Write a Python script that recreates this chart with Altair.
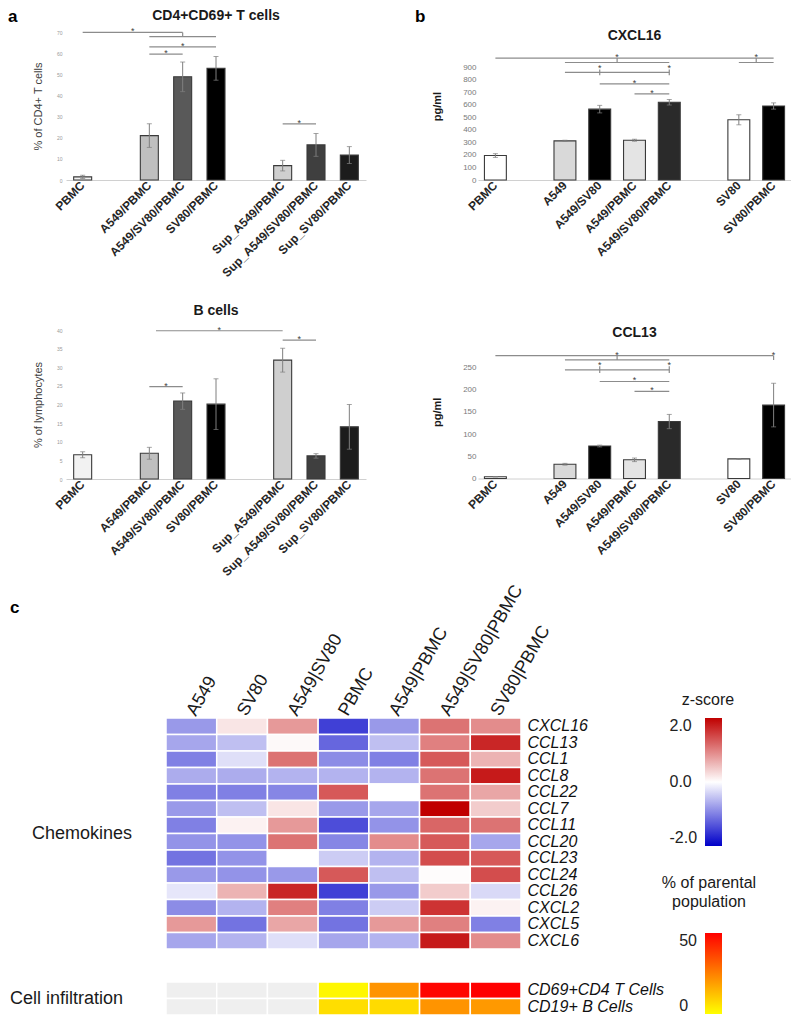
import altair as alt
import pandas as pd

FONT = "Liberation Sans"

# ---------------- panel a ----------------
a_slots = ["PBMC", " ", "A549/PBMC", "A549/SV80/PBMC", "SV80/PBMC", "  ",
           "Sup_A549/PBMC", "Sup_A549/SV80/PBMC", "Sup_SV80/PBMC"]
a_groups = ["PBMC", "A549/PBMC", "A549/SV80/PBMC", "SV80/PBMC",
            "Sup_A549/PBMC", "Sup_A549/SV80/PBMC", "Sup_SV80/PBMC"]
a_fills = ["#f2f2f2", "#bfbfbf", "#595959", "#000000", "#cfcfcf", "#3f3f3f", "#1c1c1c"]

t_mean = [1.5, 21.0, 48.8, 52.8, 6.8, 16.6, 11.8]
t_err = [0.8, 5.6, 7.0, 5.6, 2.5, 5.4, 4.0]
t_br_x1 = [0, 2, 2, 2, 6]
t_br_x2 = [3, 4, 4, 3, 7]
t_br_y = [69.8, 67.8, 63.0, 59.5, 26.5]
t_tk_x = [3]
t_tk_y1 = [67.8]
t_tk_y2 = [69.8]
t_st_x = [1.5, 3, 2.5, 6.5]
t_st_y = [69.8, 63.0, 59.5, 26.5]

b_mean = [6.5, 6.9, 20.9, 20.1, 31.9, 6.2, 14.0]
b_err = [0.8, 1.6, 2.2, 6.8, 3.2, 0.6, 6.0]
b_br_x1 = [2.2, 6, 2]
b_br_x2 = [6, 7, 3]
b_br_y = [39.8, 37.3, 24.8]
b_tk_x = []
b_tk_y1 = []
b_tk_y2 = []
b_st_x = [4.1, 6.5, 2.5]
b_st_y = [39.8, 37.3, 24.8]

# ---------------- panel b ----------------
c_slots = ["PBMC", " ", "A549", "A549/SV80", "A549/PBMC", "A549/SV80/PBMC", "  ",
           "SV80", "SV80/PBMC"]
c_groups = ["PBMC", "A549", "A549/SV80", "A549/PBMC", "A549/SV80/PBMC", "SV80", "SV80/PBMC"]
c_fills = ["#ffffff", "#d9d9d9", "#000000", "#e4e4e4", "#2a2a2a", "#ffffff", "#000000"]

x16_mean = [195, 312, 565, 317, 620, 480, 590]
x16_err = [15, 5, 30, 8, 22, 40, 25]
x16_br_x1 = [0, 2, 7, 2, 3, 4]
x16_br_x2 = [8, 5, 8, 5, 5, 5]
x16_br_y = [972, 937, 937, 858, 767, 687]
x16_tk_x = [3.5, 7.5, 3, 5]
x16_tk_y1 = [937, 937, 835, 835]
x16_tk_y2 = [972, 972, 882, 882]
x16_st_x = [3.5, 7.5, 3, 5, 4, 4.5]
x16_st_y = [972, 972, 882, 882, 767, 687]

l13_mean = [4, 32, 73, 42, 128, 44, 165]
l13_err = [0.5, 2, 2, 4, 16, 1, 49]
l13_br_x1 = [0, 2, 2, 3, 4]
l13_br_x2 = [8, 5, 5, 5, 5]
l13_br_y = [276, 266.5, 244, 218, 196]
l13_tk_x = [3.5, 8, 3, 5]
l13_tk_y1 = [266.5, 266.5, 237, 237]
l13_tk_y2 = [276, 276, 252, 252]
l13_st_x = [3.5, 8, 3, 5, 4, 4.5]
l13_st_y = [276, 276, 252, 252, 218, 196]

# ---------------- panel c ----------------
hm_cols = ["A549", "SV80", "A549|SV80", "PBMC", "A549|PBMC", "A549|SV80|PBMC", "SV80|PBMC"]
hm_rows = ["CXCL16", "CCL13", "CCL1", "CCL8", "CCL22", "CCL7", "CCL11", "CCL20",
           "CCL23", "CCL24", "CCL26", "CXCL2", "CXCL5", "CXCL6"]
z_cxcl16 = [-0.8, 0.2, 0.8, -1.5, -0.8, 1.1, 0.9]
z_ccl13 = [-0.7, -0.5, 0.05, -1.2, -0.5, 1.0, 1.7]
z_ccl1 = [-1.0, -0.25, 1.1, -0.9, -1.0, 1.3, 0.6]
z_ccl8 = [-0.65, -0.65, -0.6, -0.6, -0.6, 1.1, 1.8]
z_ccl22 = [-1.0, -1.0, -0.95, 1.3, 0.0, 1.1, 0.7]
z_ccl7 = [-0.8, -0.5, 0.2, -0.8, -0.7, 2.0, 0.4]
z_ccl11 = [-1.0, 0.1, 0.8, -1.4, -0.85, 1.2, 1.1]
z_ccl20 = [-0.85, -0.85, 1.1, -0.95, 0.9, 1.3, -0.7]
z_ccl23 = [-1.1, -0.85, 0.0, -0.4, -0.6, 1.4, 1.3]
z_ccl24 = [-0.8, -0.85, -0.8, 1.3, -0.5, 0.02, 1.4]
z_ccl26 = [-0.2, 0.6, 1.7, -1.5, -0.8, 0.4, -0.3]
z_cxcl2 = [-0.9, -0.6, 1.0, -1.0, -0.4, 1.6, 0.1]
z_cxcl5 = [0.8, -1.1, 0.7, -1.1, 0.8, 1.0, -1.0]
z_cxcl6 = [-0.7, -0.6, -0.25, -0.7, -0.6, 1.8, 0.9]
z_rows = [z_cxcl16, z_ccl13, z_ccl1, z_ccl8, z_ccl22, z_ccl7, z_ccl11, z_ccl20,
          z_ccl23, z_ccl24, z_ccl26, z_cxcl2, z_cxcl5, z_cxcl6]

cell_rows = ["CD69+CD4 T Cells", "CD19+ B Cells"]
infil_cd69 = [None, None, None, 1.6, 21.0, 49.0, 53.0]
infil_cd19 = [None, None, None, 6.5, 7.0, 21.0, 20.0]
infil_rows = [infil_cd69, infil_cd19]


def txt(t, x, y, size, weight="normal", align="center", baseline="middle", color="#1a1a1a"):
    return alt.Chart(pd.DataFrame({"t": [t]})).mark_text(
        font=FONT, fontSize=size, fontWeight=weight, align=align, baseline=baseline,
        color=color).encode(x=alt.value(x), y=alt.value(y), text="t:N")


def bar_panel(slots, groups, fills, mean, err, br, tk, st, title, title_y, ytitle, ymax,
              yvals, width, height, pin, letter, lxy, ylab, ytit):
    n = len(slots)
    df = pd.DataFrame({"grp": groups, "mean": mean,
                       "lo": [m - e for m, e in zip(mean, err)],
                       "hi": [m + e for m, e in zip(mean, err)],
                       "fill": fills})
    xscale = alt.Scale(domain=slots, paddingInner=pin, paddingOuter=pin / 2)
    qscale = alt.Scale(domain=[-0.5, n - 0.5], nice=False, zero=False)
    yscale = alt.Scale(domain=[0, ymax], nice=False, zero=True)
    xaxis = alt.Axis(title=None, labelAngle=-45, labelAlign="right", labelBaseline="middle",
                     labelFont=FONT, labelFontSize=12, labelFontWeight="bold",
                     labelColor="#262626", ticks=False, domainColor="#d0d0d0",
                     labelPadding=3, labelLimit=250)
    yaxis = alt.Axis(values=yvals, domain=False, ticks=False, grid=False,
                     labelFont=FONT, labelFontSize=ylab[0], labelColor=ylab[1],
                     labelPadding=ylab[2], title=ytitle, titleFont=FONT,
                     titleFontSize=11, titleFontWeight=ytit[0], titleColor=ytit[1],
                     titlePadding=ytit[2])

    def Y(f):
        return alt.Y(f, type="quantitative", scale=yscale, axis=yaxis, title=ytitle)

    def XN(ax=None):
        return alt.X("grp:N", scale=xscale, axis=ax)

    bars = alt.Chart(df).mark_bar(stroke="#3a3a3a", strokeWidth=1.1).encode(
        x=XN(xaxis), y=Y("mean"), fill=alt.Fill("fill:N", scale=None))
    erule = alt.Chart(df).mark_rule(color="#7f7f7f", strokeWidth=1).encode(
        x=XN(), y=Y("lo"), y2="hi")
    cap_lo = alt.Chart(df).mark_tick(color="#7f7f7f", thickness=1, size=5).encode(
        x=XN(), y=Y("lo"))
    cap_hi = alt.Chart(df).mark_tick(color="#7f7f7f", thickness=1, size=5).encode(
        x=XN(), y=Y("hi"))
    brdf = pd.DataFrame({"x1": br[0], "x2": br[1], "y": br[2]})
    brl = alt.Chart(brdf).mark_rule(color="#8c8c8c", strokeWidth=1.2).encode(
        x=alt.X("x1:Q", scale=qscale, axis=None), x2="x2:Q", y=Y("y"))
    layers = [bars, erule, cap_lo, cap_hi, brl]
    if len(tk[0]):
        tkdf = pd.DataFrame({"x": tk[0], "y1": tk[1], "y2": tk[2]})
        layers.append(alt.Chart(tkdf).mark_rule(color="#8c8c8c", strokeWidth=1.2).encode(
            x=alt.X("x:Q", scale=qscale, axis=None), y=Y("y1"), y2="y2"))
    stdf = pd.DataFrame({"x": st[0], "y": st[1]})
    layers.append(alt.Chart(stdf).mark_text(text="*", font=FONT, fontSize=9, dy=-1,
                                            color="#404040").encode(
        x=alt.X("x:Q", scale=qscale, axis=None), y=Y("y")))
    layers.append(txt(title, width / 2, title_y, 14, weight="bold"))
    if letter:
        layers.append(txt(letter, lxy[0], lxy[1], 17, weight="bold", align="left",
                          baseline="top", color="#000000"))
    return alt.layer(*layers).resolve_scale(x="independent").properties(
        width=width, height=height)


a_ylab = (5, "#9a9a9a", 4)
a_ytit = ("normal", "#404040", 13)
b_ylab = (8, "#7a7a7a", 2)
b_ytit = ("bold", "#1a1a1a", 20)

A1 = bar_panel(a_slots, a_groups, a_fills, t_mean, t_err,
               (t_br_x1, t_br_x2, t_br_y), (t_tk_x, t_tk_y1, t_tk_y2), (t_st_x, t_st_y),
               "CD4+CD69+ T cells", -16, "% of CD4+ T cells", 70, list(range(0, 71, 10)),
               300, 148, 0.46, "a", (-58, -23), a_ylab, a_ytit)
A2 = bar_panel(a_slots, a_groups, a_fills, b_mean, b_err,
               (b_br_x1, b_br_x2, b_br_y), (b_tk_x, b_tk_y1, b_tk_y2), (b_st_x, b_st_y),
               "B cells", -19, "% of lymphocytes", 40, list(range(0, 41, 5)),
               300, 149, 0.46, "", (0, 0), a_ylab, a_ytit)
B1 = bar_panel(c_slots, c_groups, c_fills, x16_mean, x16_err,
               (x16_br_x1, x16_br_x2, x16_br_y), (x16_tk_x, x16_tk_y1, x16_tk_y2),
               (x16_st_x, x16_st_y),
               "CXCL16", 4, "pg/ml", 1180, list(range(0, 901, 100)),
               313, 148, 0.37, "b", (-63, -23), b_ylab, b_ytit)
B2 = bar_panel(c_slots, c_groups, c_fills, l13_mean, l13_err,
               (l13_br_x1, l13_br_x2, l13_br_y), (l13_tk_x, l13_tk_y1, l13_tk_y2),
               (l13_st_x, l13_st_y),
               "CCL13", -12, "pg/ml", 300, list(range(0, 251, 50)),
               313, 133.5, 0.37, "", (0, 0), b_ylab, b_ytit)

# ---------------- heatmap ----------------
ROW_H = 16.5
row_domain = hm_rows + [" ", "  "] + cell_rows
H = ROW_H * len(row_domain)
W = 355

zdf = pd.DataFrame([{"col": c, "row": r, "z": v}
                    for r, vals in zip(hm_rows, z_rows) for c, v in zip(hm_cols, vals)])
pdf = pd.DataFrame([{"col": c, "row": r, "pct": v}
                    for r, vals in zip(cell_rows, infil_rows) for c, v in zip(hm_cols, vals)
                    if v is not None])
nadf = pd.DataFrame([{"col": c, "row": r}
                     for r, vals in zip(cell_rows, infil_rows) for c, v in zip(hm_cols, vals)
                     if v is None])

HX = alt.X("col:N", scale=alt.Scale(domain=hm_cols, paddingInner=0, paddingOuter=0),
           axis=alt.Axis(orient="top", title=None, labelAngle=-60, labelAlign="left",
                         labelBaseline="middle", labelFont=FONT, labelFontSize=18,
                         labelColor="#1a1a1a", ticks=False, domain=False, labelPadding=4,
                         labelLimit=300))
HY = alt.Y("row:N", scale=alt.Scale(domain=row_domain, paddingInner=0, paddingOuter=0),
           axis=alt.Axis(orient="right", title=None, labelFont=FONT, labelFontSize=16,
                         labelFontStyle="italic", labelColor="#111111", ticks=False,
                         domain=False, labelPadding=6, labelLimit=300))

NB = "\u00a0"

zrect = alt.Chart(zdf).mark_rect(stroke="white", strokeWidth=1.5).encode(
    x=HX, y=HY,
    color=alt.Color("z:Q",
                    scale=alt.Scale(domain=[-2, 0, 2], range=["#0000c8", "#ffffff", "#c00000"],
                                    clamp=True, interpolate="rgb"),
                    legend=alt.Legend(orient="none", legendX=539, legendY=0, title=None,
                                      direction="vertical", gradientLength=128,
                                      gradientThickness=17, gradientStrokeWidth=0,
                                      values=[-2, 0, 2], labelFont=FONT, labelFontSize=16,
                                      labelColor="#222222", labelOffset={"expr": "-52.5"},
                                      padding=0,
                                      labelExpr="datum.value < 0 ? '-' + format(-datum.value, '.1f') : '" + NB + "' + format(datum.value, '.1f')")))
narect = alt.Chart(nadf).mark_rect(fill="#efefef", stroke="white", strokeWidth=1.5).encode(
    x=HX, y=HY)
prect = alt.Chart(pdf).mark_rect(stroke="white", strokeWidth=1.5).encode(
    x=HX, y=HY,
    color=alt.Color("pct:Q",
                    scale=alt.Scale(domain=[0, 50], range=["#ffff00", "#ff0000"], clamp=True,
                                    interpolate="rgb"),
                    legend=alt.Legend(orient="none", legendX=539, legendY=H - 82, title=None,
                                      direction="vertical", gradientLength=81,
                                      gradientThickness=17, gradientStrokeWidth=0,
                                      values=[0, 50], labelFont=FONT,
                                      labelFontSize=16, labelColor="#222222",
                                      labelOffset={"expr": "-42.8"}, padding=0,
                                      labelExpr="datum.value < 10 ? '" + NB + NB + "' + format(datum.value, 'd') : format(datum.value, 'd')")))

heat = alt.layer(
    zrect, narect, prect,
    txt("z-score", 542, -18.5, 16),
    txt("% of parental", 543, H - 82 - 49.7, 16),
    txt("population", 543, H - 82 - 31, 16),
).resolve_scale(color="independent").properties(width=W, height=H)

side = alt.layer(
    txt("c", -56, -110, 17, weight="bold", align="left", color="#000000"),
    txt("Chemokines", 16, 7 * ROW_H, 18),
    txt("Cell infiltration", -56, 17 * ROW_H, 18, align="left"),
).properties(width=90, height=H)

heat_row = alt.hconcat(side, heat, spacing=9)

top = alt.hconcat(alt.vconcat(A1, A2, spacing=25), alt.vconcat(B1, B2, spacing=68),
                  spacing=49)
chart = alt.vconcat(top, heat_row, spacing=3).properties(
    padding={"left": 0, "top": 0, "right": 0, "bottom": 0}
).configure(font=FONT, background="white", view=alt.ViewConfig(stroke=None))

chart.save("out.html", embed_options={"renderer": "svg", "actions": False})
